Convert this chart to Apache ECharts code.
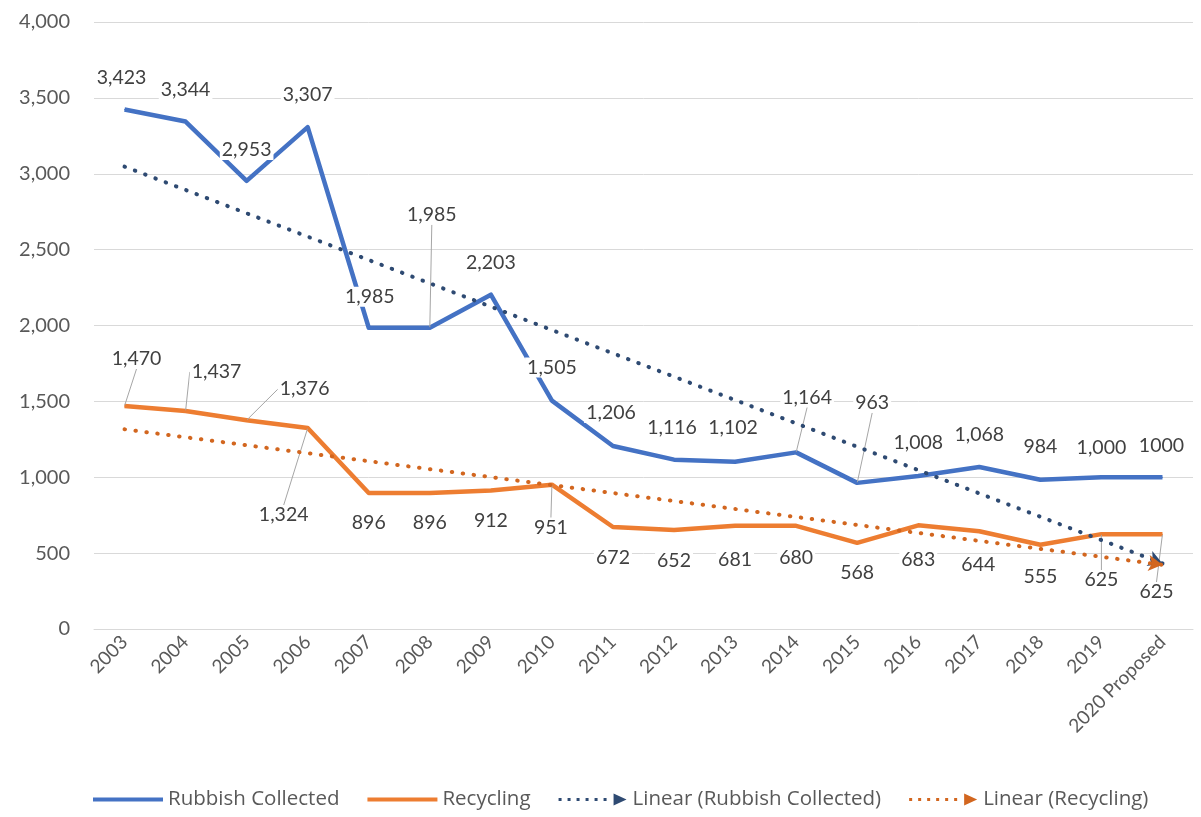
<!DOCTYPE html>
<html>
<head>
<meta charset="utf-8">
<script src="https://cdn.jsdelivr.net/npm/echarts@6/dist/echarts.min.js"></script>
<style>
  html, body { margin: 0; padding: 0; background: #ffffff; }
  #chart { width: 1201px; height: 817px; }
</style>
</head>
<body>
<div id="chart"></div>
<script>
// Yearly tonnage figures
const years = ['2003', '2004', '2005', '2006', '2007', '2008', '2009', '2010', '2011',
  '2012', '2013', '2014', '2015', '2016', '2017', '2018', '2019', '2020 Proposed'];
const rubbish = [3423, 3344, 2953, 3307, 1985, 1985, 2203, 1505, 1206,
  1116, 1102, 1164, 963, 1008, 1068, 984, 1000, 1000];
const recycling = [1470, 1437, 1376, 1324, 896, 896, 912, 951, 672,
  652, 681, 680, 568, 683, 644, 555, 625, 625];
// Linear trend lines: value at the first and last category
const rubbishTrend = [3047, 432];
const recyclingTrend = [1316, 423];
const yTicks = [0, 500, 1000, 1500, 2000, 2500, 3000, 3500, 4000];

// Label placement (shift of the label centre from its point, leader line flag)
const rubbishLabelPos = [
  [-3, -32, 0], [0, -32, 0], [0, -31, 0], [0, -32, 0], [1, -31, 0], [2, -113, 1],
  [0, -32, 0], [0, -33, 0], [-2, -33, 0], [-2, -32, 0], [-2, -34, 0], [11, -55, 1],
  [15, -80, 1], [0, -33, 0], [0, -32, 0], [0, -33, 0], [0, -30, 0], [-1, -32, 0]
];
const recyclingLabelPos = [
  [12, -47, 1], [31, -39, 1], [58, -31, 1], [-24, 87, 1], [0, 30, 0], [0, 30, 0],
  [0, 30, 0], [-1, 43, 1], [0, 31, 0], [0, 31, 0], [0, 34, 0], [0, 32, 0],
  [0, 30, 0], [0, 34, 0], [-1, 33, 0], [0, 32, 0], [0, 46, 1], [-6, 58, 1]
];

const FONT = 'Lato, "Open Sans", sans-serif';
const LEGEND_FONT = '"Open Sans", Lato, sans-serif';
const BLUE = '#4472C4';
const ORANGE = '#ED7D31';
const BLUE_TREND = '#2E4A72';
const ORANGE_TREND = '#D2661F';

const fmt = v => v.toLocaleString('en-US');

function labelled(values, pos, lastText) {
  return values.map((v, i) => {
    const item = {
      value: v,
      label: {
        formatter: (i === values.length - 1 && lastText) ? lastText : fmt(v)
      }
    };
    if (pos[i][2]) item.labelLine = { show: true };
    return item;
  });
}

const baseLabel = {
  show: true,
  position: 'inside',
  color: '#404040',
  fontFamily: FONT,
  fontSize: 19.5,
  backgroundColor: '#ffffff',
  padding: [0, 2]
};
const leader = {
  show: false,
  smooth: false,
  length2: 0,
  lineStyle: { color: '#A6A6A6', width: 1 }
};
const layoutFrom = pos => params => ({
  dx: pos[params.dataIndex][0],
  dy: pos[params.dataIndex][1]
});

// Legend glyphs
const solidIcon = 'path://M0,0 L70,0 L70,4 L0,4 Z';
let dotted = '';
for (let i = 0; i < 6; i++) {
  const x = 2 + i * 9;
  dotted += 'M' + x + ',4.5 L' + (x + 3) + ',4.5 L' + (x + 3) + ',7.5 L' + x + ',7.5 Z ';
}
const trendIcon = 'path://' + dotted + 'M57,0 L70,6 L57,12 Z';

function trendSeries(name, color, vals) {
  return {
    name: name,
    type: 'line',
    data: [],
    color: color,
    z: 4,
    markLine: {
      silent: true,
      symbol: ['none', 'arrow'],
      symbolSize: [12, 14],
      label: { show: false },
      lineStyle: { color: color, width: 4, type: [0.5, 10.5], cap: 'round' },
      data: [[
        { coord: [0, vals[0]] },
        { coord: [years.length - 1, vals[1]] }
      ]],
      animation: false
    }
  };
}

const chart = echarts.init(document.getElementById('chart'), null, { renderer: 'canvas' });
chart.setOption({
  animation: false,
  backgroundColor: '#ffffff',
  textStyle: { fontFamily: FONT },
  grid: { left: 94, right: 8, top: 22, bottom: 188, containLabel: false },
  xAxis: {
    type: 'category',
    data: years,
    boundaryGap: true,
    axisLine: { show: true, lineStyle: { color: '#D9D9D9', width: 1 } },
    axisTick: { show: false },
    axisLabel: {
      rotate: 45,
      margin: 10,
      interval: 0,
      color: '#595959',
      fontFamily: FONT,
      fontSize: 19
    }
  },
  yAxis: {
    type: 'value',
    min: yTicks[0],
    max: yTicks[yTicks.length - 1],
    interval: yTicks[1] - yTicks[0],
    axisLine: { show: false },
    axisTick: { show: false },
    splitLine: { lineStyle: { color: '#D9D9D9', width: 1 } },
    axisLabel: {
      margin: 24,
      color: '#595959',
      fontFamily: FONT,
      fontSize: 20,
      formatter: v => fmt(v)
    }
  },
  legend: {
    bottom: 2,
    left: 88,
    itemWidth: 70,
    itemHeight: 12,
    itemGap: 28,
    selectedMode: false,
    textStyle: { color: '#595959', fontFamily: LEGEND_FONT, fontSize: 20.5 },
    data: [
      { name: 'Rubbish Collected', icon: solidIcon },
      { name: 'Recycling', icon: solidIcon },
      { name: 'Linear (Rubbish Collected)', icon: trendIcon },
      { name: 'Linear (Recycling)', icon: trendIcon }
    ]
  },
  series: [
    {
      name: 'Rubbish Collected',
      type: 'line',
      color: BLUE,
      z: 3,
      symbol: 'circle',
      symbolSize: 1,
      lineStyle: { color: BLUE, width: 4.5, join: 'round' },
      label: baseLabel,
      labelLine: leader,
      labelLayout: layoutFrom(rubbishLabelPos),
      data: labelled(rubbish, rubbishLabelPos, '1000')
    },
    {
      name: 'Recycling',
      type: 'line',
      color: ORANGE,
      z: 3,
      symbol: 'circle',
      symbolSize: 1,
      lineStyle: { color: ORANGE, width: 4.5, join: 'round' },
      label: baseLabel,
      labelLine: leader,
      labelLayout: layoutFrom(recyclingLabelPos),
      data: labelled(recycling, recyclingLabelPos)
    },
    trendSeries('Linear (Rubbish Collected)', BLUE_TREND, rubbishTrend),
    trendSeries('Linear (Recycling)', ORANGE_TREND, recyclingTrend)
  ]
});
</script>
</body>
</html>
